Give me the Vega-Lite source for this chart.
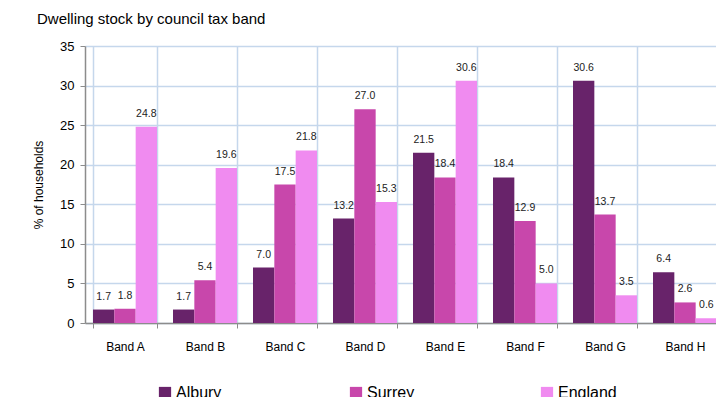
{
  "$schema": "https://vega.github.io/schema/vega-lite/v6.json",
  "autosize": {"type": "none"},
  "width": 631,
  "height": 277,
  "padding": {"left": 85, "top": 46, "right": 0, "bottom": 74},
  "background": "white",
  "config": {
    "font": "Liberation Sans",
    "view": {"stroke": null}
  },
  "title": {
    "text": "Dwelling stock by council tax band",
    "anchor": "start",
    "frame": "group",
    "dx": -48,
    "offset": 13,
    "fontSize": 15,
    "fontWeight": "normal",
    "color": "#000000"
  },
  "data": {
    "values": [
      {"band": "Band A", "area": "Albury", "value": 1.7},
      {"band": "Band A", "area": "Surrey", "value": 1.8},
      {"band": "Band A", "area": "England", "value": 24.8},
      {"band": "Band B", "area": "Albury", "value": 1.7},
      {"band": "Band B", "area": "Surrey", "value": 5.4},
      {"band": "Band B", "area": "England", "value": 19.6},
      {"band": "Band C", "area": "Albury", "value": 7.0},
      {"band": "Band C", "area": "Surrey", "value": 17.5},
      {"band": "Band C", "area": "England", "value": 21.8},
      {"band": "Band D", "area": "Albury", "value": 13.2},
      {"band": "Band D", "area": "Surrey", "value": 27.0},
      {"band": "Band D", "area": "England", "value": 15.3},
      {"band": "Band E", "area": "Albury", "value": 21.5},
      {"band": "Band E", "area": "Surrey", "value": 18.4},
      {"band": "Band E", "area": "England", "value": 30.6},
      {"band": "Band F", "area": "Albury", "value": 18.4},
      {"band": "Band F", "area": "Surrey", "value": 12.9},
      {"band": "Band F", "area": "England", "value": 5.0},
      {"band": "Band G", "area": "Albury", "value": 30.6},
      {"band": "Band G", "area": "Surrey", "value": 13.7},
      {"band": "Band G", "area": "England", "value": 3.5},
      {"band": "Band H", "area": "Albury", "value": 6.4},
      {"band": "Band H", "area": "Surrey", "value": 2.6},
      {"band": "Band H", "area": "England", "value": 0.6}
    ]
  },
  "encoding": {
    "x": {
      "field": "band",
      "type": "nominal",
      "scale": {"paddingInner": 0.2, "paddingOuter": 0.1, "range": [0, 640]},
      "axis": {
        "title": null,
        "labelAngle": 0,
        "labelFontSize": 12,
        "labelColor": "#000000",
        "labelPadding": 13,
        "tickBand": "extent",
        "tickSize": 5,
        "tickColor": "#8c8c8c",
        "domainColor": "#8c8c8c",
        "domainWidth": 1.5,
        "grid": true,
        "gridColor": "#c5d7ec",
        "gridWidth": 1.5,
        "gridOpacity": 1
      }
    },
    "xOffset": {"field": "area", "type": "nominal", "sort": ["Albury", "Surrey", "England"]},
    "y": {
      "field": "value",
      "type": "quantitative",
      "scale": {"domain": [0, 35]},
      "axis": {
        "title": "% of households",
        "titleFontSize": 12,
        "titleFontWeight": "normal",
        "titleColor": "#000000",
        "titlePadding": 14,
        "values": [0, 5, 10, 15, 20, 25, 30, 35],
        "labelFontSize": 13,
        "labelColor": "#000000",
        "labelPadding": 6,
        "tickSize": 5,
        "tickColor": "#8c8c8c",
        "domainColor": "#8c8c8c",
        "domainWidth": 1.5,
        "grid": true,
        "gridColor": "#c5d7ec",
        "gridWidth": 1.5
      }
    }
  },
  "layer": [
    {
      "mark": {"type": "bar"},
      "encoding": {
        "color": {
          "field": "area",
          "type": "nominal",
          "sort": ["Albury", "Surrey", "England"],
          "scale": {"domain": ["Albury", "Surrey", "England"], "range": ["#68236a", "#c847ab", "#f08bf0"]},
          "legend": {
            "title": null,
            "orient": "none",
            "legendX": 72,
            "legendY": 339,
            "direction": "horizontal",
            "columns": 3,
            "gridAlign": "all",
            "columnPadding": 113,
            "symbolType": "square",
            "symbolSize": 150,
            "symbolStrokeWidth": 0,
            "symbolOpacity": 1,
            "labelFontSize": 16,
            "labelColor": "#000000",
            "labelOffset": 3
          }
        }
      }
    },
    {
      "mark": {"type": "text", "dy": -13, "fontSize": 10.5, "color": "#222222"},
      "encoding": {
        "text": {"field": "value", "type": "quantitative", "format": ".1f"}
      }
    }
  ]
}
